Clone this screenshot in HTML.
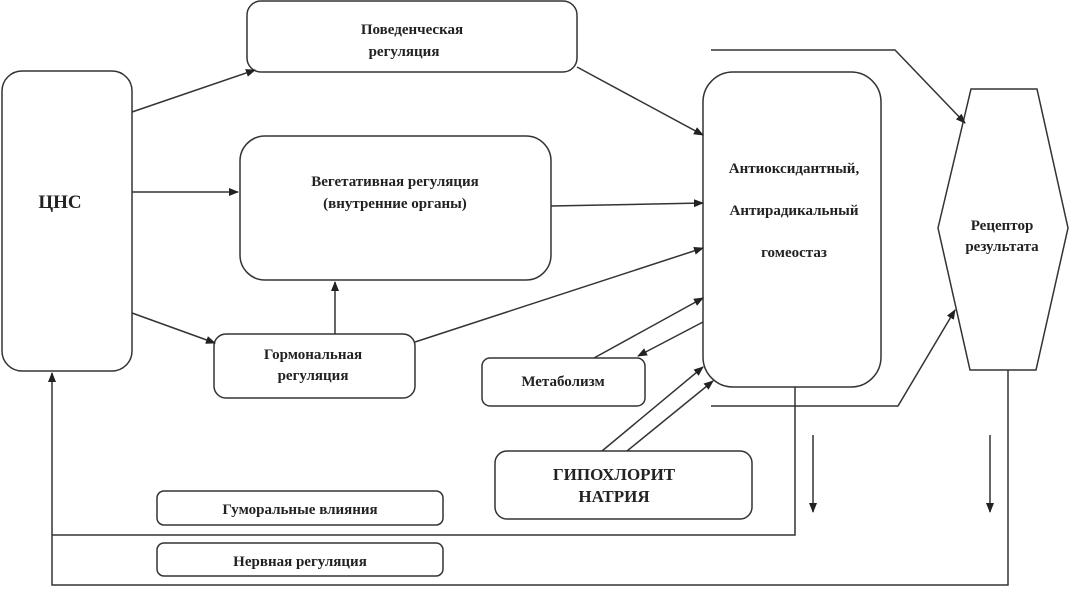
<!DOCTYPE html>
<html><head><meta charset="utf-8"><style>
body{margin:0;background:#fff;width:1071px;height:591px;overflow:hidden}
svg text{font-family:"Liberation Serif",serif;font-weight:bold;fill:#222;text-anchor:middle}
</style></head><body>
<svg width="1071" height="591" viewBox="0 0 1071 591" xmlns="http://www.w3.org/2000/svg">
<defs><marker id="a" markerWidth="10" markerHeight="8" refX="9" refY="4" orient="auto" markerUnits="userSpaceOnUse"><path d="M0,0 L10,4 L0,8 z" fill="#222"/></marker></defs>
<g fill="none" stroke="#333" stroke-width="1.5">
<rect x="2" y="71" width="130" height="300" rx="20"/>
<rect x="247" y="1" width="330" height="71" rx="14"/>
<rect x="240" y="136" width="311" height="144" rx="25"/>
<rect x="214" y="334" width="201" height="64" rx="12"/>
<rect x="482" y="358" width="163" height="48" rx="8"/>
<rect x="495" y="451" width="257" height="68" rx="12"/>
<rect x="157" y="491" width="286" height="34" rx="7"/>
<rect x="157" y="543" width="286" height="33" rx="7"/>
<rect x="703" y="72" width="178" height="315" rx="30"/>
<polygon points="971,89 1037,89 1068,228 1036,370 970,370 938,228"/>
<g marker-end="url(#a)">
<line x1="132" y1="112" x2="255" y2="70"/>
<line x1="132" y1="192" x2="238" y2="192"/>
<line x1="132" y1="313" x2="215" y2="343"/>
<line x1="335" y1="334" x2="335" y2="282"/>
<line x1="415" y1="342" x2="703" y2="248"/>
<line x1="577" y1="67" x2="703" y2="135"/>
<line x1="551" y1="206" x2="703" y2="203"/>
<line x1="594" y1="358" x2="703" y2="298"/>
<line x1="703" y1="322" x2="638" y2="356"/>
<line x1="602" y1="451" x2="703" y2="367"/>
<line x1="627" y1="451" x2="713" y2="381"/>
<polyline points="711,50 895,50 965,123"/>
<polyline points="711,406 898,406 955,310"/>
<line x1="813" y1="435" x2="813" y2="512"/>
<line x1="990" y1="435" x2="990" y2="512"/>
<polyline points="1008,370 1008,585 52,585 52,373"/>
</g>
<polyline points="795,387 795,535 52,535"/>
</g>
<text x="412" y="34" font-size="15">Поведенческая</text>
<text x="404" y="56" font-size="15">регуляция</text>
<text x="60" y="208" font-size="19">ЦНС</text>
<text x="395" y="186" font-size="15">Вегетативная регуляция</text>
<text x="395" y="208" font-size="15">(внутренние органы)</text>
<text x="313" y="359" font-size="15">Гормональная</text>
<text x="313" y="380" font-size="15">регуляция</text>
<text x="563" y="386" font-size="15">Метаболизм</text>
<text x="614" y="480" font-size="17">ГИПОХЛОРИТ</text>
<text x="614" y="502" font-size="17">НАТРИЯ</text>
<text x="300" y="514" font-size="15">Гуморальные влияния</text>
<text x="300" y="566" font-size="15">Нервная регуляция</text>
<text x="794" y="173" font-size="15">Антиоксидантный,</text>
<text x="794" y="215" font-size="15">Антирадикальный</text>
<text x="794" y="257" font-size="15">гомеостаз</text>
<text x="1002" y="230" font-size="15">Рецептор</text>
<text x="1002" y="251" font-size="15">результата</text>
</svg>
</body></html>
